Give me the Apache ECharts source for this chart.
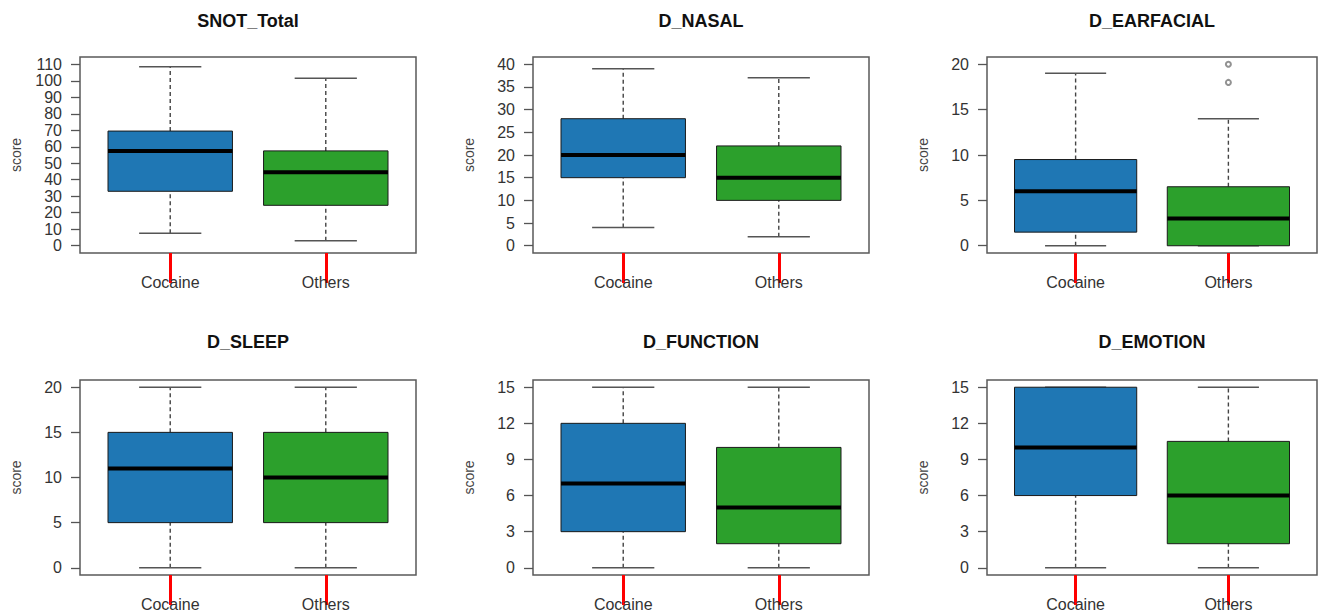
<!DOCTYPE html>
<html>
<head>
<meta charset="utf-8">
<script src="https://cdn.jsdelivr.net/npm/echarts@6/dist/echarts.min.js"></script>
<style>html,body{margin:0;padding:0;background:#fff}#c{width:1323px;height:612px}</style>
</head>
<body>
<div id="c"></div>
<script>
// ---- data ----
const categories = ['Cocaine', 'Others'];
const panelTitles = ['SNOT_Total', 'D_NASAL', 'D_EARFACIAL', 'D_SLEEP', 'D_FUNCTION', 'D_EMOTION'];
// each group: [lower whisker, Q1, median, Q3, upper whisker]
const snotTotal = [[7.5, 33, 57.5, 69.5, 108.5], [3, 24.5, 44.5, 57.5, 101.5]];
const dNasal = [[4, 15, 20, 28, 39], [2, 10, 15, 22, 37]];
const dEarfacial = [[0, 1.5, 6, 9.5, 19], [0, 0, 3, 6.5, 14]];
const dSleep = [[0, 5, 11, 15, 20], [0, 5, 10, 15, 20]];
const dFunction = [[0, 3, 7, 12, 15], [0, 2, 5, 10, 15]];
const dEmotion = [[0, 6, 10, 15, 15], [0, 2, 6, 10.5, 15]];
// outliers per panel: [groupIndex, value]
const snotOutliers = [];
const nasalOutliers = [];
const earfacialOutliers = [[1, 18], [1, 20]];
const sleepOutliers = [];
const functionOutliers = [];
const emotionOutliers = [];
// tick labels
const snotTicks = [0, 10, 20, 30, 40, 50, 60, 70, 80, 90, 100, 110];
const nasalTicks = [0, 5, 10, 15, 20, 25, 30, 35, 40];
const earfacialTicks = [0, 5, 10, 15, 20];
const sleepTicks = [0, 5, 10, 15, 20];
const functionTicks = [0, 3, 6, 9, 12, 15];
const emotionTicks = [0, 3, 6, 9, 12, 15];
const groupTicks = [1, 2];

const panelStats = [snotTotal, dNasal, dEarfacial, dSleep, dFunction, dEmotion];
const panelOutliers = [snotOutliers, nasalOutliers, earfacialOutliers, sleepOutliers, functionOutliers, emotionOutliers];
const panelTicks = [snotTicks, nasalTicks, earfacialTicks, sleepTicks, functionTicks, emotionTicks];

// ---- style / layout ----
const groupColors = ['#1f77b4', '#2ca02c'];
const FONT = 'Liberation Sans, Arial, sans-serif';
const cols = [{left: 80, width: 336}, {left: 533, width: 336}, {left: 987, width: 330}];
const rows = [{top: 57, height: 196, titleY: 12}, {top: 380, height: 196, titleY: 333}];

function renderBox(params, api) {
  const x = api.value(0);
  const lo = api.value(1), q1 = api.value(2), med = api.value(3), q3 = api.value(4), hi = api.value(5);
  const color = groupColors[params.dataIndex];
  const halfBox = api.size([0.8, 0])[0] / 2;
  const halfCap = api.size([0.4, 0])[0] / 2;
  const pLo = api.coord([x, lo]), pQ1 = api.coord([x, q1]), pMed = api.coord([x, med]);
  const pQ3 = api.coord([x, q3]), pHi = api.coord([x, hi]);
  const wStyle = {stroke: '#444', lineWidth: 1.4, lineDash: [4, 3]};
  const cStyle = {stroke: '#555', lineWidth: 1.5};
  return {
    type: 'group',
    children: [
      {type: 'line', shape: {x1: pQ3[0], y1: pQ3[1], x2: pHi[0], y2: pHi[1]}, style: wStyle},
      {type: 'line', shape: {x1: pLo[0], y1: pLo[1], x2: pQ1[0], y2: pQ1[1]}, style: wStyle},
      {type: 'line', shape: {x1: pHi[0] - halfCap, y1: pHi[1], x2: pHi[0] + halfCap, y2: pHi[1]}, style: cStyle},
      {type: 'line', shape: {x1: pLo[0] - halfCap, y1: pLo[1], x2: pLo[0] + halfCap, y2: pLo[1]}, style: cStyle},
      {type: 'rect', shape: {x: pQ1[0] - halfBox, y: pQ3[1], width: 2 * halfBox, height: pQ1[1] - pQ3[1]},
        style: {fill: color, stroke: '#1a1a1a', lineWidth: 1}},
      {type: 'line', shape: {x1: pMed[0] - halfBox, y1: pMed[1], x2: pMed[0] + halfBox, y2: pMed[1]},
        style: {stroke: '#000', lineWidth: 4}}
    ]
  };
}

const grid = [], xAxis = [], yAxis = [], series = [], title = [];
panelTitles.forEach((name, i) => {
  const c = cols[i % 3], r = rows[Math.floor(i / 3)];
  const ticks = panelTicks[i];
  const T = ticks[ticks.length - 1];
  grid.push({left: c.left, top: r.top, width: c.width, height: r.height, show: true,
    borderColor: '#5a5a5a', borderWidth: 1.5});
  title.push({text: name, left: c.left + c.width / 2, top: r.titleY, textAlign: 'center', padding: 0,
    textStyle: {fontFamily: FONT, fontSize: 18, fontWeight: 'bold', color: '#111'}});
  xAxis.push({type: 'value', gridIndex: i, min: 0.42, max: 2.58,
    axisLine: {show: false, onZero: false}, splitLine: {show: false},
    axisTick: {show: true, length: 30, customValues: groupTicks, lineStyle: {color: 'red', width: 3}},
    axisLabel: {customValues: groupTicks, margin: 21, formatter: v => categories[Math.round(v) - 1],
      fontFamily: FONT, fontSize: 16, color: '#333'}});
  yAxis.push({type: 'value', gridIndex: i, min: -0.04 * T, max: 1.04 * T,
    name: 'score', nameLocation: 'middle', nameGap: 57,
    nameTextStyle: {fontFamily: FONT, fontSize: 14, color: '#444'},
    axisLine: {show: false, onZero: false}, splitLine: {show: false},
    axisTick: {show: true, length: 9, customValues: ticks, lineStyle: {color: '#555', width: 1.3}},
    axisLabel: {customValues: ticks, margin: 18, fontFamily: FONT, fontSize: 16, color: '#333'}});
  series.push({type: 'custom', xAxisIndex: i, yAxisIndex: i, renderItem: renderBox,
    encode: {x: 0, y: [1, 2, 3, 4, 5]},
    data: categories.map((cat, g) => [g + 1].concat(panelStats[i][g]))});
  if (panelOutliers[i].length) {
    series.push({type: 'scatter', xAxisIndex: i, yAxisIndex: i, symbol: 'emptyCircle', symbolSize: 5,
      itemStyle: {color: '#777', borderColor: '#777', borderWidth: 1.5},
      data: panelOutliers[i].map(o => [o[0] + 1, o[1]]), z: 5});
  }
});

const chart = echarts.init(document.getElementById('c'), null, {renderer: 'svg'});
chart.setOption({animation: false, backgroundColor: '#fff', title, grid, xAxis, yAxis, series});
</script>
</body>
</html>
